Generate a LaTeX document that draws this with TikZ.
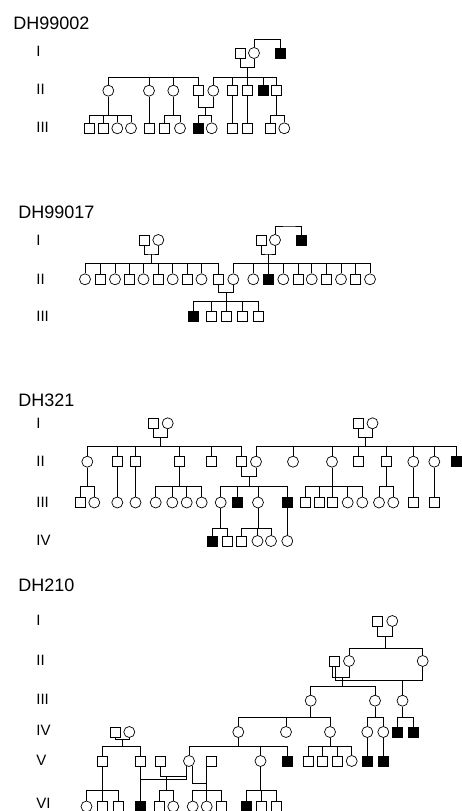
\documentclass[tikz,border=0pt]{standalone}
\usepackage{fontspec}
\setmainfont{Liberation Sans}

\begin{document}
\begin{tikzpicture}[
  x=1pt, y=-1pt,
  line width=0.7pt,
  male/.style={draw, rectangle, minimum size=10pt, inner sep=0pt},
  female/.style={draw, circle, minimum size=11pt, inner sep=0pt},
  affm/.style={male, fill=black},
  fam/.style={font=\fontsize{18}{18}\selectfont, anchor=west, inner sep=0pt},
  gen/.style={font=\fontsize{15}{15}\selectfont, anchor=west, inner sep=0pt}
]
\useasboundingbox (0,0) rectangle (462,811);

% ---------- DH99002 ----------
\node[fam] (famA) at (13,23) {DH99002};
\foreach \n/\t/\y in {gA1/I/51, gA2/II/89, gA3/III/127}
  \node[gen] (\n) at (36,\y) {\t};

\foreach \n/\x/\s in {A1a/240.7/male, A1b/254/female, A1c/280/affm}
  \node[\s] (\n) at (\x,53) {};
\foreach \n/\x/\s in {A2a/108.3/female, A2b/149/female, A2c/173.3/female, A2d/198.3/male,
    A2e/213.3/female, A2f/232.7/male, A2g/247.5/male, A2h/263.3/affm, A2i/276/male}
  \node[\s] (\n) at (\x,90.7) {};
\foreach \n/\x/\s in {A3a/89.3/male, A3b/103.3/male, A3c/117.3/female, A3d/131/female,
    A3e/149/male, A3f/164.3/male, A3g/180/female, A3h/198.3/affm, A3i/211.7/female,
    A3j/232.7/male, A3k/247.5/male, A3l/270/male, A3m/284.3/female}
  \node[\s] (\n) at (\x,128.3) {};

\coordinate (A0) at (267,39.5);
\coordinate (Au1) at (247.5,67.7);
\coordinate (As2) at (0,77.3);
\coordinate (Au2) at (205,107.3);
\coordinate (As3) at (0,115);

\draw (A1b.north) |- (A0) -| (A1c.north);
\draw (A1a.south) |- (Au1) -| (A1b.south);
\draw (Au1) -- (Au1 |- As2);
\draw (A2a.north) |- (A2d.north |- As2) -- (A2d.north);
\draw (A2e.north) |- (A2i.north |- As2) -- (A2i.north);
\foreach \n in {A2b,A2c,A2f,A2g,A2h} \draw (\n.north) -- (\n.north |- As2);
\draw (A2d.south) |- (Au2) -| (A2e.south);
\draw (Au2) -- (Au2 |- As3);
\foreach \p/\c in {A2b/A3e, A2f/A3j, A2g/A3k} \draw (\p.south) -- (\c.north);
\foreach \p in {A2a,A2c,A2i} \draw (\p.south) -- (\p.south |- As3);
\foreach \a/\b in {A3a/A3d, A3f/A3g, A3h/A3i, A3l/A3m}
  \draw (\a.north) |- (\b.north |- As3) -- (\b.north);
\foreach \n in {A3b,A3c} \draw (\n.north) -- (\n.north |- As3);

% ---------- DH99017 ----------
\node[fam] (famB) at (18,212.7) {DH99017};
\foreach \n/\t/\y in {gB1/I/240, gB2/II/279.3, gB3/III/316.7}
  \node[gen] (\n) at (36,\y) {\t};

\foreach \n/\x/\s in {B1a/144/male, B1b/158.3/female, B1c/261/male, B1d/275/female, B1e/301/affm}
  \node[\s] (\n) at (\x,240) {};
\foreach \n/\x/\s in {B2a/85/female, B2b/100/male, B2c/115/female, B2d/129.5/male,
    B2e/143.5/female, B2f/158/male, B2g/172.7/female, B2h/187.5/male, B2i/201.5/female,
    B2j/218.5/male, B2k/233.3/female, B2l/253.3/female, B2m/268/affm, B2n/283.3/female,
    B2o/298.3/male, B2p/311.7/female, B2q/326.7/male, B2r/341/female, B2s/355/male,
    B2t/370/female}
  \node[\s] (\n) at (\x,279.3) {};
\foreach \n/\x/\s in {B3a/193.5/affm, B3b/211.7/male, B3c/226/male, B3d/242/male, B3e/258/male}
  \node[\s] (\n) at (\x,316.7) {};

\coordinate (B0) at (290,226);
\coordinate (Bu1) at (151.2,254);
\coordinate (Bu2) at (268,254);
\coordinate (Bs2) at (0,263.5);
\coordinate (Bu3) at (226,292.7);
\coordinate (Bs3) at (0,301.7);

\draw (B1d.north) |- (B0) -| (B1e.north);
\draw (B1a.south) |- (Bu1) -| (B1b.south);
\draw (B1c.south) |- (Bu2) -| (B1d.south);
\draw (Bu1) -- (Bu1 |- Bs2);
\draw (Bu2) -- (B2m.north);
\draw (B2a.north) |- (B2j.north |- Bs2) -- (B2j.north);
\draw (B2k.north) |- (B2t.north |- Bs2) -- (B2t.north);
\foreach \n in {B2b,B2c,B2d,B2e,B2f,B2g,B2h,B2i,B2l,B2n,B2o,B2p,B2q,B2r,B2s}
  \draw (\n.north) -- (\n.north |- Bs2);
\draw (B2j.south) |- (Bu3) -| (B2k.south);
\draw (Bu3) -- (B3c.north);
\draw (B3a.north) |- (B3e.north |- Bs3) -- (B3e.north);
\foreach \n in {B3b,B3d} \draw (\n.north) -- (\n.north |- Bs3);

% ---------- DH321 ----------
\node[fam] (famC) at (18,400.7) {DH321};
\foreach \n/\t/\y in {gC1/I/423.3, gC2/II/461.7, gC3/III/502.7, gC4/IV/540.7}
  \node[gen] (\n) at (36,\y) {\t};

\foreach \n/\x/\s in {C1a/153.3/male, C1b/167.7/female, C1c/358/male, C1d/372.5/female}
  \node[\s] (\n) at (\x,423.3) {};
\foreach \n/\x/\s in {C2a/87.3/female, C2b/117.3/male, C2c/135.5/male, C2d/179.3/male,
    C2e/211/male, C2f/241.7/male, C2g/256/female, C2h/293/female, C2i/332/female,
    C2j/358/male, C2k/386.7/male, C2l/413.3/female, C2m/434.3/female, C2n/456/affm}
  \node[\s] (\n) at (\x,461.7) {};
\foreach \n/\x/\s in {C3a/80.5/male, C3b/94.3/female, C3c/117.3/female, C3d/135.5/female,
    C3e/155.7/female, C3f/172.3/female, C3g/186.7/female, C3h/201.7/female,
    C3i/220.7/female, C3j/237.7/affm, C3k/258/female, C3l/287.3/affm, C3m/305/male,
    C3n/319/male, C3o/332.5/male, C3p/347.7/female, C3q/362.3/female, C3r/379/female,
    C3s/393.3/female, C3t/413.3/male, C3u/434.3/male}
  \node[\s] (\n) at (\x,502.5) {};
\foreach \n/\x/\s in {C4a/212.7/affm, C4b/227.3/male, C4c/241.7/male, C4d/257.5/female,
    C4e/271/female, C4f/287.3/female}
  \node[\s] (\n) at (\x,541) {};

\coordinate (Cu1) at (160.5,437.3);
\coordinate (Cu2) at (365.3,437.3);
\coordinate (Cs2) at (0,446.7);
\coordinate (Cu3) at (249,476.7);
\coordinate (Cs3) at (0,486);
\coordinate (Cs4) at (0,528.3);

\draw (C1a.south) |- (Cu1) -| (C1b.south);
\draw (C1c.south) |- (Cu2) -| (C1d.south);
\draw (Cu1) -- (Cu1 |- Cs2);
\draw (Cu2) -- (Cu2 |- Cs2);
\draw (C2a.north) |- (C2f.north |- Cs2) -- (C2f.north);
\draw (C2g.north) |- (C2n.north |- Cs2) -- (C2n.north);
\foreach \n in {C2b,C2c,C2d,C2e,C2h,C2i,C2j,C2k,C2l,C2m}
  \draw (\n.north) -- (\n.north |- Cs2);
\draw (C2f.south) |- (Cu3) -| (C2g.south);
\draw (Cu3) -- (Cu3 |- Cs3);
\foreach \p in {C2a,C2d,C2i,C2k} \draw (\p.south) -- (\p.south |- Cs3);
\foreach \p/\c in {C2b/C3c, C2c/C3d, C2l/C3t, C2m/C3u} \draw (\p.south) -- (\c.north);
\foreach \a/\b in {C3a/C3b, C3e/C3h, C3i/C3l, C3m/C3q, C3r/C3s}
  \draw (\a.north) |- (\b.north |- Cs3) -- (\b.north);
\foreach \n in {C3f,C3g,C3j,C3k,C3n,C3o,C3p} \draw (\n.north) -- (\n.north |- Cs3);
\foreach \p in {C3i,C3k} \draw (\p.south) -- (\p.south |- Cs4);
\draw (C3l.south) -- (C4f.north);
\foreach \a/\b in {C4a/C4b, C4c/C4e} \draw (\a.north) |- (\b.north |- Cs4) -- (\b.north);
\draw (C4d.north) -- (C4d.north |- Cs4);

% ---------- DH210 ----------
\node[fam] (famD) at (18,585) {DH210};
\foreach \n/\t/\y in {gD1/I/620, gD2/II/660.7, gD3/III/699.3, gD4/IV/730, gD5/V/760.7, gD6/VI/803.3}
  \node[gen] (\n) at (36,\y) {\t};

\foreach \n/\x/\s in {D1a/377.5/male, D1b/392.3/female}
  \node[\s] (\n) at (\x,621) {};
\foreach \n/\x/\s in {D2a/334/male, D2b/349/female, D2c/422.7/female}
  \node[\s] (\n) at (\x,661) {};
\foreach \n/\x/\s in {D3a/310.7/female, D3b/375/female, D3c/402.5/female}
  \node[\s] (\n) at (\x,700.7) {};
\foreach \n/\x/\s in {D4a/115/male, D4b/129.3/female, D4c/238.3/female, D4d/286/female,
    D4e/330/female, D4f/367.3/female, D4g/383.3/female, D4h/397.3/affm, D4i/413.3/affm}
  \node[\s] (\n) at (\x,732) {};
\foreach \n/\x/\s in {D5a/102.7/male, D5b/140/male, D5c/160.7/male, D5d/189/female,
    D5e/211/male, D5f/260.5/female, D5g/287.5/affm, D5h/308.3/male, D5i/322.7/male,
    D5j/337.7/male, D5k/351.7/female, D5l/367.3/affm, D5m/383.3/affm}
  \node[\s] (\n) at (\x,761) {};
\foreach \n/\x/\s in {D6a/86.5/female, D6b/102.7/male, D6c/118.7/male, D6d/140/affm,
    D6e/159.3/male, D6f/173.3/female, D6g/192.7/female, D6h/206.7/female, D6i/221/male,
    D6j/246.7/affm, D6k/261/male, D6l/276.7/male}
  \node[\s] (\n) at (\x,806.5) {};

\coordinate (Du0) at (385,636.7);
\coordinate (Ds2) at (0,648.3);
\coordinate (Du1) at (342.3,677.3);
\coordinate (Du2) at (402.5,680.3);
\coordinate (Ds3) at (0,686);
\coordinate (Ds4) at (0,717);
\coordinate (Du3) at (122.2,739.3);
\coordinate (Ds5) at (0,746.7);
\coordinate (Du4) at (0,779.3);
\coordinate (Du5) at (166.7,776.7);
\coordinate (Du6) at (206.7,783.3);
\coordinate (Ds6) at (0,790.7);

\draw (D1a.south) |- (Du0) -| (D1b.south);
\draw (Du0) -- (Du0 |- Ds2);
\draw (D2b.north) |- (D2c.north |- Ds2) -- (D2c.north);
\draw ([xshift=-1.2pt]D2a.south) |- (Du1) -| (D2b.south);
\draw ([xshift=1.2pt]D2a.south) |- (Du2) -| (D2c.south);
\draw (Du1) -- (Du1 |- Ds3);
\draw (D3a.north) |- (D3b.north |- Ds3) -- (D3b.north);
\draw (Du2) -- (D3c.north);
\foreach \p in {D3a,D3b,D3c} \draw (\p.south) -- (\p.south |- Ds4);
\foreach \a/\b in {D4c/D4e, D4f/D4g, D4h/D4i} \draw (\a.north) |- (\b.north |- Ds4) -- (\b.north);
\draw (D4d.north) -- (D4d.north |- Ds4);
\draw (D4a.south) |- (Du3) -| (D4b.south);
\draw (Du3) -- (Du3 |- Ds5);
\foreach \p in {D4c,D4e} \draw (\p.south) -- (\p.south |- Ds5);
\foreach \a/\b in {D5a/D5b, D5d/D5g, D5h/D5k} \draw (\a.north) |- (\b.north |- Ds5) -- (\b.north);
\foreach \n in {D5f,D5i,D5j} \draw (\n.north) -- (\n.north |- Ds5);
\foreach \p/\c in {D4f/D5l, D4g/D5m} \draw (\p.south) -- (\c.north);

\draw (D5a.south) -- (D5a.south |- Ds6);
\draw (D6a.north) |- (D6c.north |- Ds6) -- (D6c.north);
\draw (D6b.north) -- (D6b.north |- Ds6);
\draw (D5b.south) -- (D6d.north);
\draw (D5b.south |- Du4) -- (D5d.240 |- Du4) -- (D5d.240);
\draw (D5c.south) |- (Du5) -- (D5d.240 |- Du5);
\draw (Du5) -- (Du5 |- Ds6);
\draw (D6e.north) |- (D6f.north |- Ds6) -- (D6f.north);
\draw (D5d.300) |- (Du6) -- (Du6 |- D5e.south);
\draw (Du6) -- (D6h.north);
\draw (D6g.north) |- (D6i.north |- Ds6) -- (D6i.north);
\draw (D5f.south) -- (D5f.south |- Ds6);
\draw (D6j.north) |- (D6l.north |- Ds6) -- (D6l.north);
\draw (D6k.north) -- (D6k.north |- Ds6);

\end{tikzpicture}
\end{document}
